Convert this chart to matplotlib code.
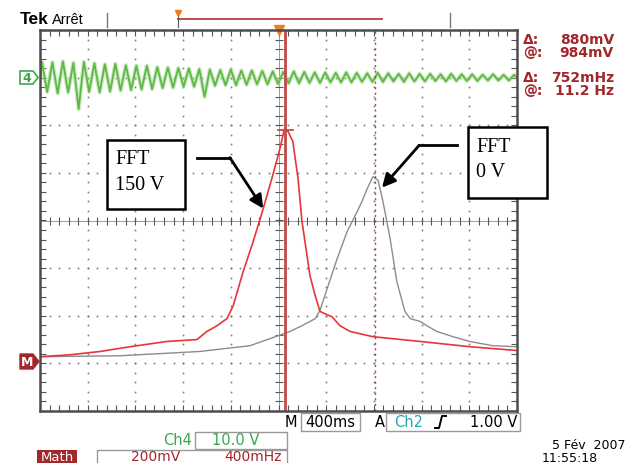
import numpy as np
import matplotlib
matplotlib.use("Agg")
import matplotlib.pyplot as plt
from matplotlib.patches import Rectangle, Polygon

# screen is 10 x 8 divisions, centre at (5, 0)
# FFT traces (math channel), in divisions
red_x = [0.00, 0.63, 1.26, 1.89, 2.66, 3.29, 3.50, 3.71, 3.92, 4.05, 4.26, 4.47,
         4.68, 4.88, 5.03, 5.12, 5.20, 5.30, 5.41, 5.49, 5.66, 5.77, 5.87, 6.00,
         6.12, 6.29, 6.50, 6.98, 7.97, 9.01, 10.00]
red_y = [-2.86, -2.82, -2.75, -2.65, -2.54, -2.50, -2.33, -2.21, -2.06, -1.79, -1.07, -0.44,
         0.25, 0.95, 1.51, 1.91, 1.87, 1.66, 0.88, 0.00, -1.16, -1.58, -1.91, -1.97,
         -2.02, -2.21, -2.33, -2.44, -2.54, -2.65, -2.73]

gray_x = [0.00, 1.68, 3.35, 4.40, 4.99, 5.24, 5.49, 5.77, 5.87, 6.02, 6.23, 6.44,
          6.65, 6.75, 6.86, 6.98, 7.09, 7.19, 7.34, 7.48, 7.65, 7.76, 7.97, 8.11,
          8.32, 8.66, 9.01, 9.50, 10.00]
gray_y = [-2.86, -2.84, -2.75, -2.63, -2.42, -2.33, -2.21, -2.06, -1.89, -1.43, -0.80, -0.23,
          0.19, 0.40, 0.67, 0.92, 0.84, 0.40, -0.38, -1.28, -1.91, -2.06, -2.12, -2.21,
          -2.33, -2.44, -2.54, -2.63, -2.65]

# Ch4 signal: ground level, period (div) and successive peak / trough excursions
ch4_level = 3.0
ch4_period = 0.22
ch4_peaks = [0.33, 0.32, 0.34, 0.31, 0.33, 0.30, 0.28, 0.29, 0.26, 0.25, 0.25, 0.22,
             0.21, 0.20, 0.19, 0.18, 0.17, 0.16, 0.17, 0.15, 0.15, 0.14, 0.13, 0.12,
             0.13, 0.12, 0.11, 0.11, 0.10, 0.11, 0.10, 0.09, 0.10, 0.09, 0.08, 0.09,
             0.08, 0.08, 0.07, 0.08, 0.07, 0.07, 0.06, 0.07, 0.06, 0.06]
ch4_troughs = [-0.30, -0.33, -0.31, -0.66, -0.30, -0.31, -0.29, -0.27, -0.26, -0.25, -0.24, -0.22,
               -0.21, -0.19, -0.19, -0.40, -0.17, -0.16, -0.16, -0.15, -0.14, -0.14, -0.13, -0.12,
               -0.12, -0.11, -0.11, -0.10, -0.10, -0.10, -0.09, -0.09, -0.09, -0.08, -0.09, -0.08,
               -0.08, -0.07, -0.08, -0.07, -0.07, -0.07, -0.06, -0.06, -0.06, -0.06]

cursor_solid = 5.14
cursor_dotted = 7.02

readouts = [("Δ:", "880mV"), ("@:", "984mV"), ("Δ:", "752mHz"), ("@:", "11.2 Hz")]

GREEN = "#5fb845"
RED = "#e8353a"
CURSOR = "#c24a48"
DARKRED = "#a3262a"
GRID = "#7a7a7a"

W, H = 633, 464
fig = plt.figure(figsize=(W / 100, H / 100), dpi=100)
ax = fig.add_axes([40 / W, 52 / H, 477 / W, 381 / H])
ax.set_xlim(0, 10)
ax.set_ylim(-4, 4)
ax.set_xticks([])
ax.set_yticks([])
for sp in ax.spines.values():
    sp.set_color("#4d4d4d")
    sp.set_linewidth(1.8)

# graticule
xs_minor = np.arange(0, 10.001, 0.2)
ys_minor = np.arange(-4, 4.001, 0.2)
for gx in range(1, 10):
    if gx == 5:
        continue
    ax.plot(np.full(len(ys_minor), gx), ys_minor, ls="none", marker="s", ms=1.2,
            color=GRID, mew=0)
for gy in range(-3, 4):
    if gy == 0:
        continue
    ax.plot(xs_minor, np.full(len(xs_minor), gy), ls="none", marker="s", ms=1.2,
            color=GRID, mew=0)
ax.axhline(0, color="#9a9a9a", lw=0.7)
ax.axvline(5, color="#9a9a9a", lw=0.7)
ax.plot(xs_minor, np.zeros(len(xs_minor)), ls="none", marker="|", ms=6, mew=0.8, color="#555555")
ax.plot(np.full(len(ys_minor), 5), ys_minor, ls="none", marker="_", ms=6, mew=0.8, color="#555555")
ax.plot(xs_minor, np.full(len(xs_minor), -4), ls="none", marker=2, ms=4, mew=0.8, color="#555555", clip_on=False)
ax.plot(xs_minor, np.full(len(xs_minor), 4), ls="none", marker=3, ms=4, mew=0.8, color="#555555", clip_on=False)
ax.plot(np.zeros(len(ys_minor)), ys_minor, ls="none", marker=1, ms=4, mew=0.8, color="#555555", clip_on=False)
ax.plot(np.full(len(ys_minor), 10), ys_minor, ls="none", marker=0, ms=4, mew=0.8, color="#555555", clip_on=False)

# ch4 trace
gx_pts, gy_pts = [0.0], [ch4_level - 0.05]
for k, (p, t) in enumerate(zip(ch4_peaks, ch4_troughs)):
    gx_pts += [0.04 + ch4_period * k, 0.15 + ch4_period * k]
    gy_pts += [ch4_level + p, ch4_level + t]
ax.plot(gx_pts, gy_pts, color="#a6dc92", lw=3.0, alpha=0.6)
ax.plot(gx_pts, gy_pts, color=GREEN, lw=1.3)

# FFT traces
ax.plot(gray_x, gray_y, color="#8c8c8c", lw=1.0)
ax.plot(red_x, red_y, color=RED, lw=1.2)

# cursors
ax.axvline(cursor_solid, color=CURSOR, lw=2.0)
ax.axvline(cursor_dotted, color="#b04040", lw=1.0, ls=(0, (1.5, 2.5)))
ax.plot([4.99, 5.30], [1.91, 1.91], color=CURSOR, lw=1.3)
ax.plot(5.0, 4.0, marker="v", ms=7, color="#f07c22", clip_on=False)

# annotation arrows
ax.plot([3.29, 3.98], [1.32, 1.32], color="k", lw=2)
ax.annotate("", xy=(4.68, 0.25), xytext=(3.98, 1.32),
            arrowprops=dict(arrowstyle="-|>", lw=2, color="k", mutation_scale=20,
                            shrinkA=0, shrinkB=0))
ax.plot([8.74, 7.95], [1.58, 1.58], color="k", lw=2)
ax.annotate("", xy=(7.17, 0.69), xytext=(7.95, 1.58),
            arrowprops=dict(arrowstyle="-|>", lw=2, color="k", mutation_scale=20,
                            shrinkA=0, shrinkB=0))

# overlay in pixel coordinates for the scope's labels
ov = fig.add_axes([0, 0, 1, 1], zorder=5)
ov.set_xlim(0, W)
ov.set_ylim(H, 0)
ov.axis("off")
ov.patch.set_alpha(0)

ov.text(20, 20, "Tek", fontsize=12.5, fontweight="bold", family="Liberation Sans", va="center")
ov.text(52, 20, "Arrêt", fontsize=10.5, family="Liberation Sans", va="center")
ov.plot([107, 107], [14, 28], color="#777777", lw=1)
ov.plot([450, 450], [14, 28], color="#777777", lw=1)
ov.plot([178, 382], [20, 20], color=CURSOR, lw=1.4)
ov.plot([178, 178], [17, 28], color="#555555", lw=0.8)
ov.plot(178, 14, marker="v", ms=5, color="#f07c22")

ov.add_patch(Polygon([(20, 72), (33, 72), (38, 78.5), (33, 85), (20, 85)], closed=True,
                     facecolor="white", edgecolor="#3aa84a", lw=1.2))
ov.text(27, 78.5, "4", color="#3aa84a", fontsize=9, fontweight="bold", ha="center", va="center")
ov.add_patch(Polygon([(20, 355), (33, 355), (39, 362.5), (33, 370), (20, 370)], closed=True,
                     facecolor="#a3282c", edgecolor="#a3282c"))
ov.text(27, 363, "M", color="white", fontsize=9, fontweight="bold", ha="center", va="center")

for i, (lab, val) in enumerate(readouts):
    yy = [40, 53, 78, 91][i]
    ov.text(523, yy, lab, color=DARKRED, fontsize=10, fontweight="bold", va="center")
    ov.text(614, yy, val, color=DARKRED, fontsize=10, fontweight="bold", va="center", ha="right")

# annotation boxes
ov.add_patch(Rectangle((107, 141), 78, 69, facecolor="white", edgecolor="k", lw=1.8))
ov.text(115, 160, "FFT", family="Liberation Serif", fontsize=14.5, va="center")
ov.text(115, 186, "150 V", family="Liberation Serif", fontsize=14.5, va="center")
ov.add_patch(Rectangle((468, 128), 79, 71, facecolor="white", edgecolor="k", lw=1.8))
ov.text(476, 148, "FFT", family="Liberation Serif", fontsize=14.5, va="center")
ov.text(476, 173, "0 V", family="Liberation Serif", fontsize=14.5, va="center")

# bottom status line
ov.text(291, 423, "M", fontsize=10.5, ha="center", va="center")
ov.add_patch(Rectangle((301, 414), 59, 18, facecolor="none", edgecolor="#999999", lw=1))
ov.text(330, 423, "400ms", fontsize=10.5, ha="center", va="center")
ov.text(380, 423, "A", fontsize=10.5, ha="center", va="center")
ov.add_patch(Rectangle((386, 414), 134, 18, facecolor="none", edgecolor="#999999", lw=1))
ov.text(409, 423, "Ch2", color="#27a8b0", fontsize=10.5, ha="center", va="center")
ov.plot([435, 439, 442, 446], [429, 429, 417, 417], color="k", lw=1.4)
ov.text(517, 423, "1.00 V", fontsize=10.5, ha="right", va="center")

ov.text(178, 441, "Ch4", color="#3aa84a", fontsize=10.5, ha="center", va="center")
ov.add_patch(Rectangle((195, 433), 92, 17, facecolor="none", edgecolor="#999999", lw=1))
ov.text(236, 441, "10.0 V", color="#3aa84a", fontsize=10.5, ha="center", va="center")

ov.add_patch(Rectangle((37, 451), 40, 14, facecolor="#a3282c", edgecolor="none"))
ov.text(57, 457.5, "Math", color="white", fontsize=9.5, ha="center", va="center")
ov.add_patch(Rectangle((97, 451), 190, 16, facecolor="none", edgecolor="#999999", lw=1))
ov.text(156, 457.5, "200mV", color=DARKRED, fontsize=10, ha="center", va="center")
ov.text(253, 457.5, "400mHz", color=DARKRED, fontsize=10, ha="center", va="center")

ov.text(625, 446, "5 Fév  2007", fontsize=9, ha="right", va="center")
ov.text(598, 458.5, "11:55:18", fontsize=9, ha="right", va="center")

fig.savefig("out.png", dpi=100)
